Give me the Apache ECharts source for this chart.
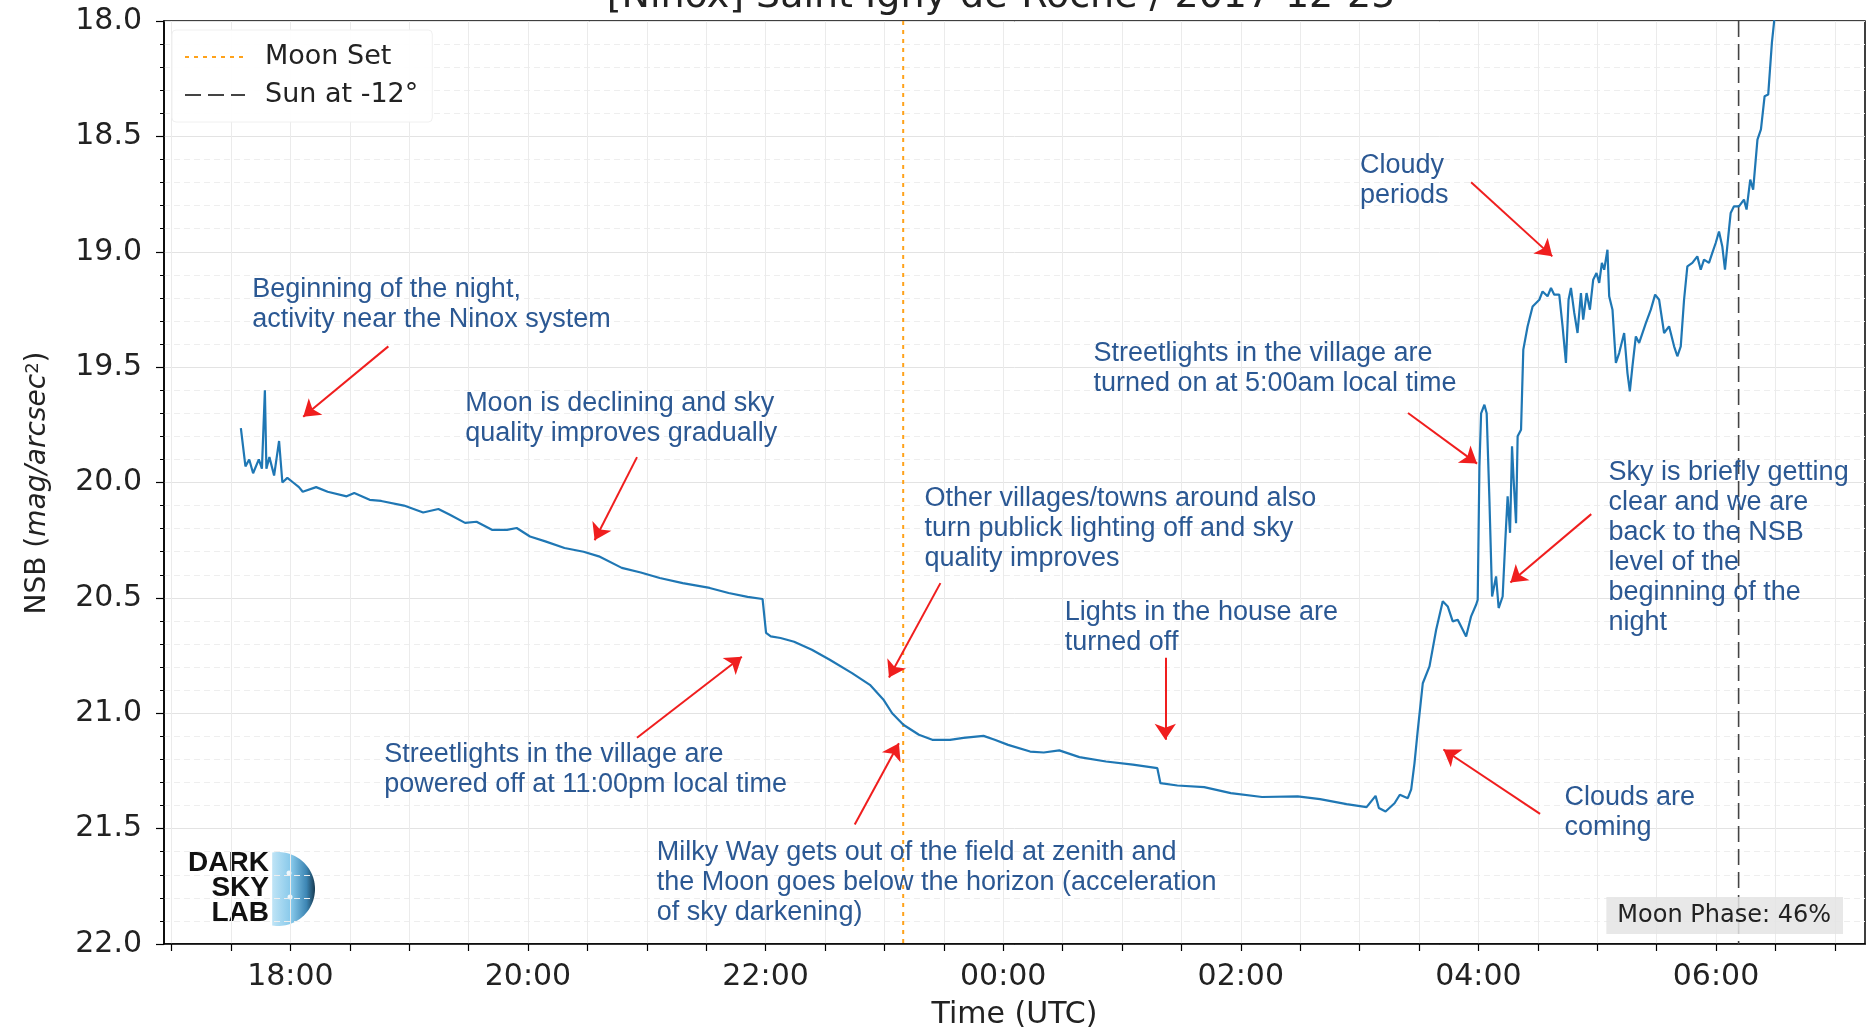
<!DOCTYPE html>
<html>
<head>
<meta charset="utf-8">
<script src="https://cdn.jsdelivr.net/npm/echarts@6/dist/echarts.min.js"></script>
<style>
html,body{margin:0;padding:0;background:#fff;}
#chart{width:1866px;height:1030px;}
</style>
</head>
<body>
<div id="chart"></div>
<script>
// ---------------- data ----------------
const chartTitle = '[Ninox] Saint Igny-de-Roche / 2017-12-25';

const times = [
'17:35:00','17:37:19','17:39:14','17:41:11','17:44:04','17:45:38','17:47:08','17:47:54','17:49:25','17:51:47',
'17:54:18','17:55:58','17:58:29','18:01:25','18:04:20','18:06:15','18:13:01','18:18:49','18:28:26','18:32:16',
'18:40:02','18:45:53','18:57:23','19:07:04','19:14:46','19:20:34','19:28:14','19:34:02','19:41:48','19:49:25',
'19:54:18','20:01:01','20:08:46','20:18:27','20:28:05','20:35:48','20:47:23','20:56:58','21:06:33','21:18:09',
'21:31:46','21:41:20','21:50:55','21:58:29','22:00:15','22:02:37','22:07:34','22:14:25','22:23:23','22:32:25',
'22:43:40','22:52:41','22:59:27','23:03:56','23:09:35','23:17:27','23:24:12','23:33:11','23:39:56','23:50:04',
'23:55:43','00:02:29','00:13:37','00:20:29','00:28:20','00:38:29','00:51:56','01:05:30','01:17:51','01:19:25',
'01:27:59','01:41:30','01:54:58','02:10:44','02:28:44','02:40:02','02:53:26','03:03:32','03:08:04','03:09:44',
'03:13:07','03:17:39','03:20:19','03:24:21','03:26:04','03:27:44','03:29:24','03:31:55','03:35:18','03:38:40',
'03:42:00','03:44:31','03:47:02','03:49:34','03:53:48','03:56:19','03:58:50','03:59:39','04:00:31','04:01:22',
'04:03:02','04:04:11','04:05:33','04:06:55','04:08:56','04:10:14','04:12:15','04:13:37','04:14:46','04:15:59',
'04:16:59','04:17:48','04:19:01','04:19:49','04:21:32','04:22:41','04:24:52','04:27:23','04:30:46','04:32:25',
'04:34:56','04:36:40','04:38:19','04:40:50','04:42:31','04:44:13','04:45:32','04:46:44','04:48:25','04:50:04',
'04:51:47','04:52:56','04:54:37','04:56:19','04:57:59','04:59:39','05:01:01','05:02:22','05:03:32','05:05:11',
'05:06:03','05:07:43','05:09:26','05:11:05','05:13:37','05:15:17','05:16:29','05:17:48','05:19:31','05:21:11',
'05:24:34','05:27:05','05:29:15','05:31:16','05:33:47','05:36:18','05:38:50','05:40:29','05:42:12','05:43:52',
'05:45:32','05:48:03','05:50:34','05:52:17','05:53:57','05:56:28','05:58:08','05:59:51','06:01:31','06:03:11',
'06:04:32','06:06:12','06:07:25','06:09:05','06:11:36','06:14:07','06:15:26','06:17:18','06:18:46','06:20:56',
'06:22:42','06:24:33','06:26:22','06:28:14','06:29:45'
];

const nsb = [
19.764,19.930,19.900,19.960,19.900,19.940,19.600,19.940,19.890,19.970,
19.820,20.000,19.980,20.000,20.020,20.040,20.020,20.040,20.060,20.045,
20.075,20.080,20.100,20.130,20.115,20.140,20.175,20.170,20.205,20.205,
20.197,20.234,20.255,20.284,20.300,20.320,20.370,20.390,20.414,20.436,
20.457,20.479,20.496,20.505,20.652,20.667,20.674,20.690,20.725,20.768,
20.826,20.877,20.940,21.000,21.050,21.093,21.115,21.115,21.107,21.098,
21.115,21.137,21.166,21.170,21.161,21.190,21.209,21.223,21.238,21.303,
21.313,21.320,21.346,21.363,21.360,21.372,21.394,21.407,21.358,21.411,
21.426,21.390,21.353,21.368,21.330,21.216,21.072,20.870,20.797,20.638,
20.515,20.537,20.602,20.595,20.667,20.580,20.530,20.508,19.930,19.700,
19.663,19.700,20.070,20.494,20.407,20.544,20.494,20.248,20.060,20.218,
19.843,19.988,20.176,19.800,19.771,19.424,19.323,19.237,19.208,19.172,
19.193,19.157,19.186,19.186,19.323,19.482,19.208,19.157,19.265,19.352,
19.179,19.294,19.179,19.251,19.121,19.092,19.135,19.048,19.078,18.991,
19.193,19.251,19.482,19.439,19.352,19.526,19.605,19.497,19.367,19.395,
19.309,19.251,19.186,19.208,19.352,19.323,19.410,19.453,19.410,19.208,
19.063,19.048,19.020,19.078,19.034,19.048,19.005,18.962,18.912,18.977,
19.078,18.933,18.832,18.803,18.803,18.774,18.817,18.687,18.731,18.514,
18.470,18.326,18.319,18.094,17.970
];

const moonSetTime = '23:09:30';
const sunAt12Time = '06:11:25';
const moonPhaseText = 'Moon Phase: 46%';
const seriesNames = ['Moon Set', 'Sun at -12°'];

const xRange = ['16:56:11', '07:15:15'];
const xTickLabels = ['18:00', '20:00', '22:00', '00:00', '02:00', '04:00', '06:00'];
const yTickLabels = [18.0, 18.5, 19.0, 19.5, 20.0, 20.5, 21.0, 21.5, 22.0];
const yRange = [18, 22];

// annotations: text, text anchor (top-left) [time, NSB], arrow tail, arrow head
const noteTexts = [
  'Beginning of the night,\nactivity near the Ninox system',
  'Moon is declining and sky\nquality improves gradually',
  'Other villages/towns around also\nturn publick lighting off and sky\nquality improves',
  'Lights in the house are\nturned off',
  'Streetlights in the village are\npowered off at 11:00pm local time',
  'Milky Way gets out of the field at zenith and\nthe Moon goes below the horizon (acceleration\nof sky darkening)',
  'Streetlights in the village are\nturned on at 5:00am local time',
  'Cloudy\nperiods',
  'Sky is briefly getting\nclear and we are\nback to the NSB\nlevel of the\nbeginning of the\nnight',
  'Clouds are\ncoming'
];
const noteAnchors = [
  ['17:40:58', 19.100], ['19:28:31', 19.593], ['23:20:29', 20.007], ['00:31:22', 20.502],
  ['18:47:40', 21.115], ['21:05:19', 21.542], ['00:45:49', 19.377], ['03:00:25', 18.563],
  ['05:05:59', 19.892], ['04:43:46', 21.304]
];
const arrowTails = [
  ['18:49:29', 19.410], ['20:55:04', 19.890], ['23:28:18', 20.436], ['01:21:52', 20.760],
  ['20:55:04', 21.106], ['22:45:02', 21.482], ['03:24:27', 19.699], ['03:56:19', 18.699],
  ['04:57:00', 20.137], ['04:31:09', 21.436]
];
const arrowHeads = [
  ['18:06:30', 19.715], ['20:33:40', 20.250], ['23:02:20', 20.845], ['01:21:52', 21.115],
  ['21:48:00', 20.755], ['23:07:20', 21.130], ['03:59:20', 19.918], ['04:37:20', 19.020],
  ['04:16:10', 20.433], ['03:42:20', 21.157]
];

// ---------------- helpers ----------------
function toMin(s) {
  const p = s.split(':').map(Number);
  let t = p[0] * 60 + p[1] + (p[2] || 0) / 60;
  if (p[0] < 12) t += 1440; // after midnight
  return t;
}
function fmtClock(m) {
  const mm = ((Math.round(m) % 1440) + 1440) % 1440;
  const h = Math.floor(mm / 60), mi = mm % 60;
  return String(h).padStart(2, '0') + ':' + String(mi).padStart(2, '0');
}

const xMin = toMin(xRange[0]), xMax = toMin(xRange[1]);
const tickValues = [];
for (let t = Math.ceil(xMin / 30) * 30; t <= xMax; t += 30) tickValues.push(t);

const lineData = times.map((t, i) => [toMin(t), nsb[i]]);

const TXT = '#222222';
const NOTE = '#2b5893';
const FONT = 'DejaVu Sans';

// logo moon polygon (decorative)
const moonPts = [];
for (let a = -99; a <= 99; a += 3) {
  const r = a * Math.PI / 180;
  moonPts.push([278 + 37 * Math.cos(r), 889 + 37 * Math.sin(r)]);
}

const chart = echarts.init(document.getElementById('chart'), null, {renderer: 'canvas'});
chart.setOption({
  animation: false,
  backgroundColor: '#ffffff',
  grid: {left: 164, right: 1, top: 21, bottom: 86, containLabel: false, outerBoundsMode: 'none',
    show: true, borderColor: '#000', borderWidth: 1.5, backgroundColor: 'transparent'},
  legend: {
    data: seriesNames,
    orient: 'vertical',
    left: 172, top: 30,
    padding: [12, 14, 12, 12],
    itemWidth: 60, itemHeight: 14, itemGap: 8,
    backgroundColor: 'rgba(255,255,255,0.92)',
    borderColor: '#f0f0f0', borderWidth: 1, borderRadius: 4,
    itemStyle: {opacity: 0, color: 'transparent', borderWidth: 0},
    textStyle: {fontFamily: FONT, fontSize: 27, color: TXT, lineHeight: 30, padding: [0, 0, 0, 15]}
  },
  xAxis: {
    type: 'value', min: xMin, max: xMax,
    axisLine: {show: true, onZero: false, lineStyle: {color: '#000', width: 1.5}},
    axisTick: {show: true, customValues: tickValues, length: 7, lineStyle: {color: '#000', width: 1.2}},
    axisLabel: {customValues: xTickLabels.map(toMin), formatter: fmtClock, fontFamily: FONT, fontSize: 30, color: TXT, margin: 18},
    splitLine: {show: true, lineStyle: {color: '#ebebeb', width: 1}},
    name: 'Time (UTC)', nameLocation: 'middle', nameGap: 56,
    nameTextStyle: {fontFamily: FONT, fontSize: 30, color: TXT}
  },
  yAxis: {
    type: 'value', inverse: true, min: yRange[0], max: yRange[1], interval: 0.5,
    axisLine: {show: true, onZero: false, lineStyle: {color: '#000', width: 1.5}},
    axisTick: {show: true, length: 8, lineStyle: {color: '#000', width: 1.2}},
    minorTick: {show: true, splitNumber: 5, length: 4, lineStyle: {color: '#000', width: 1}},
    axisLabel: {customValues: yTickLabels, formatter: v => Number(v).toFixed(1), fontFamily: FONT, fontSize: 30, color: TXT, margin: 22},
    splitLine: {show: true, lineStyle: {color: '#e3e3e3', width: 1}},
    minorSplitLine: {show: true, lineStyle: {color: '#eeeeee', width: 1, type: [6, 4]}}
  },
  series: [
    {
      name: seriesNames[0], type: 'line', silent: true, symbol: 'none',
      data: [[toMin(moonSetTime), yRange[0]], [toMin(moonSetTime), yRange[1]]],
      lineStyle: {color: '#ffa21a', width: 2, type: [4, 5]}, z: 3
    },
    {
      name: seriesNames[1], type: 'line', silent: true, symbol: 'none',
      data: [[toMin(sunAt12Time), yRange[0]], [toMin(sunAt12Time), yRange[1]]],
      lineStyle: {color: '#444444', width: 1.6, type: [16, 7]}, z: 3
    },
    {
      name: 'NSB', type: 'line', silent: true, symbol: 'none', clip: true,
      data: lineData,
      lineStyle: {color: '#1f77b4', width: 2.2}, z: 4,
      markLine: {
        silent: true, symbol: ['none', 'arrow'], symbolSize: 16,
        label: {show: false},
        lineStyle: {color: '#f01e1e', width: 2, type: 'solid'},
        itemStyle: {color: '#f01e1e'},
        data: arrowTails.map((a, i) => [
          {coord: [toMin(a[0]), a[1]]},
          {coord: [toMin(arrowHeads[i][0]), arrowHeads[i][1]]}
        ])
      },
      markPoint: {
        silent: true, symbol: 'rect', symbolSize: 1,
        itemStyle: {color: 'rgba(0,0,0,0)'},
        label: {show: true, position: [0, 0], align: 'left', verticalAlign: 'top',
          color: NOTE, fontFamily: 'Liberation Sans', fontSize: 27, lineHeight: 30},
        data: noteAnchors.map((a, i) => ({
          coord: [toMin(a[0]), a[1]],
          label: {formatter: noteTexts[i]}
        }))
      }
    }
  ],
  graphic: [
    {
      type: 'text', x: 1001, y: -3, silent: true,
      style: {text: chartTitle, fontFamily: FONT, fontSize: 38, fill: TXT,
        align: 'center', verticalAlign: 'middle', textAlign: 'center', textVerticalAlign: 'middle'}
    },
    {
      type: 'text', x: 38, y: 483, rotation: Math.PI / 2, silent: true,
      style: {
        text: '{n|NSB (}{i|mag/arcsec}{s|2}{n|)}',
        align: 'center', verticalAlign: 'middle', textAlign: 'center', textVerticalAlign: 'middle',
        rich: {
          n: {fontFamily: FONT, fontSize: 28, fill: TXT, color: TXT},
          i: {fontFamily: FONT, fontSize: 28, fontStyle: 'italic', fill: TXT, color: TXT},
          s: {fontFamily: FONT, fontSize: 18, fill: TXT, color: TXT, verticalAlign: 'top', padding: [0, 0, 10, 0]}
        }
      }
    },
    {
      type: 'text', right: 23, bottom: 96, silent: true, z: 10,
      style: {text: moonPhaseText, fontFamily: FONT, fontSize: 24, fill: TXT,
        backgroundColor: 'rgba(228,228,228,0.85)', padding: [7, 12, 6, 11]}
    },
    {
      type: 'group', silent: true, z: 10,
      children: [
        {type: 'polygon', shape: {points: moonPts},
          style: {fill: {type: 'linear', x: 0, y: 0, x2: 1, y2: 0, colorStops: [
            {offset: 0, color: '#bfe4f6'}, {offset: 0.45, color: '#86c8ea'},
            {offset: 0.8, color: '#3d86b4'}, {offset: 1, color: '#173b52'}]}}},
        {type: 'circle', shape: {cx: 289, cy: 873, r: 2.5}, style: {fill: 'rgba(255,255,255,0.85)'}},
        {type: 'circle', shape: {cx: 290, cy: 897, r: 2.5}, style: {fill: 'rgba(255,255,255,0.85)'}},
        {type: 'text', x: 269, y: 851,
          style: {text: 'DARK\nSKY\nLAB', fontFamily: 'Liberation Sans', fontWeight: 'bold', fontSize: 28,
            lineHeight: 25, fill: '#111', align: 'right', verticalAlign: 'top', textAlign: 'right', textVerticalAlign: 'top'}}
      ]
    }
  ]
});
</script>
</body>
</html>
